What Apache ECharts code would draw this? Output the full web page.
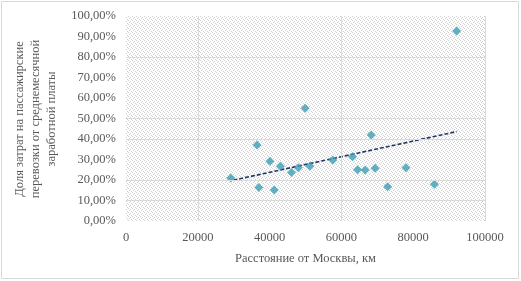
<!DOCTYPE html>
<html><head><meta charset="utf-8">
<script src="https://cdn.jsdelivr.net/npm/echarts@6/dist/echarts.min.js"></script>
<style>html,body{margin:0;padding:0;background:#fff}#c{width:521px;height:281px}</style>
</head><body><div id="c"></div>
<script>
// distance from Moscow, km
const distances = [29200, 36500, 37000, 40100, 41300, 43000, 46100, 48000, 51200, 49900, 57600, 63100, 64500, 66600, 68300, 69400, 72900, 78000, 85900, 92100];
// share of costs, %
const shares = [21.0, 37.1, 16.3, 29.1, 15.1, 26.7, 23.7, 26.0, 26.7, 55.0, 29.8, 31.4, 25.0, 24.9, 42.0, 25.7, 16.7, 26.0, 17.9, 92.7];
// linear trend endpoints
const trendX = [29900, 92100];
const trendY = [19.9, 43.6];
// visible gridlines
const yGrid = [10, 20, 40, 50, 80];
const xGrid = [20000, 60000, 100000];
const yTitle = 'Доля затрат на пассажирские\nперевозки от среднемесячной\nзаработной платы';
const xTitle = 'Расстояние от Москвы, км';

const pc = document.createElement('canvas');
pc.width = 4; pc.height = 4;
const pctx = pc.getContext('2d');
pctx.fillStyle = '#ffffff'; pctx.fillRect(0,0,4,4);
pctx.fillStyle = '#cfcfcf';
[[0,0],[2,1],[1,2],[3,3]].forEach(p => pctx.fillRect(p[0],p[1],1,1));

const font = '"Liberation Serif","Times New Roman",serif';
const chart = echarts.init(document.getElementById('c'), null, {renderer:'canvas'});
const gridLine = {color:'#d9d9d9', width:1, type:'solid'};
chart.setOption({
  backgroundColor:'#ffffff',
  animation:false,
  graphic:[
    {type:'rect', shape:{x:1.5,y:1.5,width:517,height:277}, style:{fill:'none', stroke:'#d9d9d9', lineWidth:1}, silent:true},
    {type:'text', x:36, y:119, rotation:Math.PI/2, silent:true,
      style:{text:yTitle, fill:'#595959', font:'12.5px ' + font, lineHeight:16, align:'center', verticalAlign:'middle'}}
  ],
  grid:{left:126, right:36, top:16, bottom:60, show:true, backgroundColor:{image:pc, repeat:'repeat'}, borderWidth:0,
    containLabel:false, outerBoundsMode:'none'},
  xAxis:{type:'value', min:0, max:100000, interval:20000,
    axisLine:{show:false}, axisTick:{show:false}, splitLine:{show:false},
    axisLabel:{color:'#595959', fontFamily:font, fontSize:12.5, margin:10, formatter:v => String(v)},
    name:xTitle, nameLocation:'middle', nameGap:31,
    nameTextStyle:{color:'#595959', fontFamily:font, fontSize:12.5}},
  yAxis:{type:'value', min:0, max:100, interval:10,
    axisLine:{show:false}, axisTick:{show:false}, splitLine:{show:false},
    axisLabel:{color:'#595959', fontFamily:font, fontSize:12.5, margin:10,
      formatter:v => v.toFixed(2).replace('.', ',') + '%'}},
  series:[
    {type:'line', data:[], silent:true, symbol:'none',
      markLine:{silent:true, symbol:'none', label:{show:false}, lineStyle:gridLine, animation:false,
        data: yGrid.map(v=>({yAxis:v})).concat(xGrid.map(v=>({xAxis:v})))}},
    {type:'line', data: trendX.map((x,i)=>[x, trendY[i]]), symbol:'none', z:3,
      lineStyle:{color:'#203864', width:1.6, type:[4,2]}},
    {type:'scatter', data: distances.map((x,i)=>[x, shares[i]]), symbol:'diamond', symbolSize:9, z:4,
      itemStyle:{color:'#3c9fb5'}}
  ]
});
</script></body></html>
